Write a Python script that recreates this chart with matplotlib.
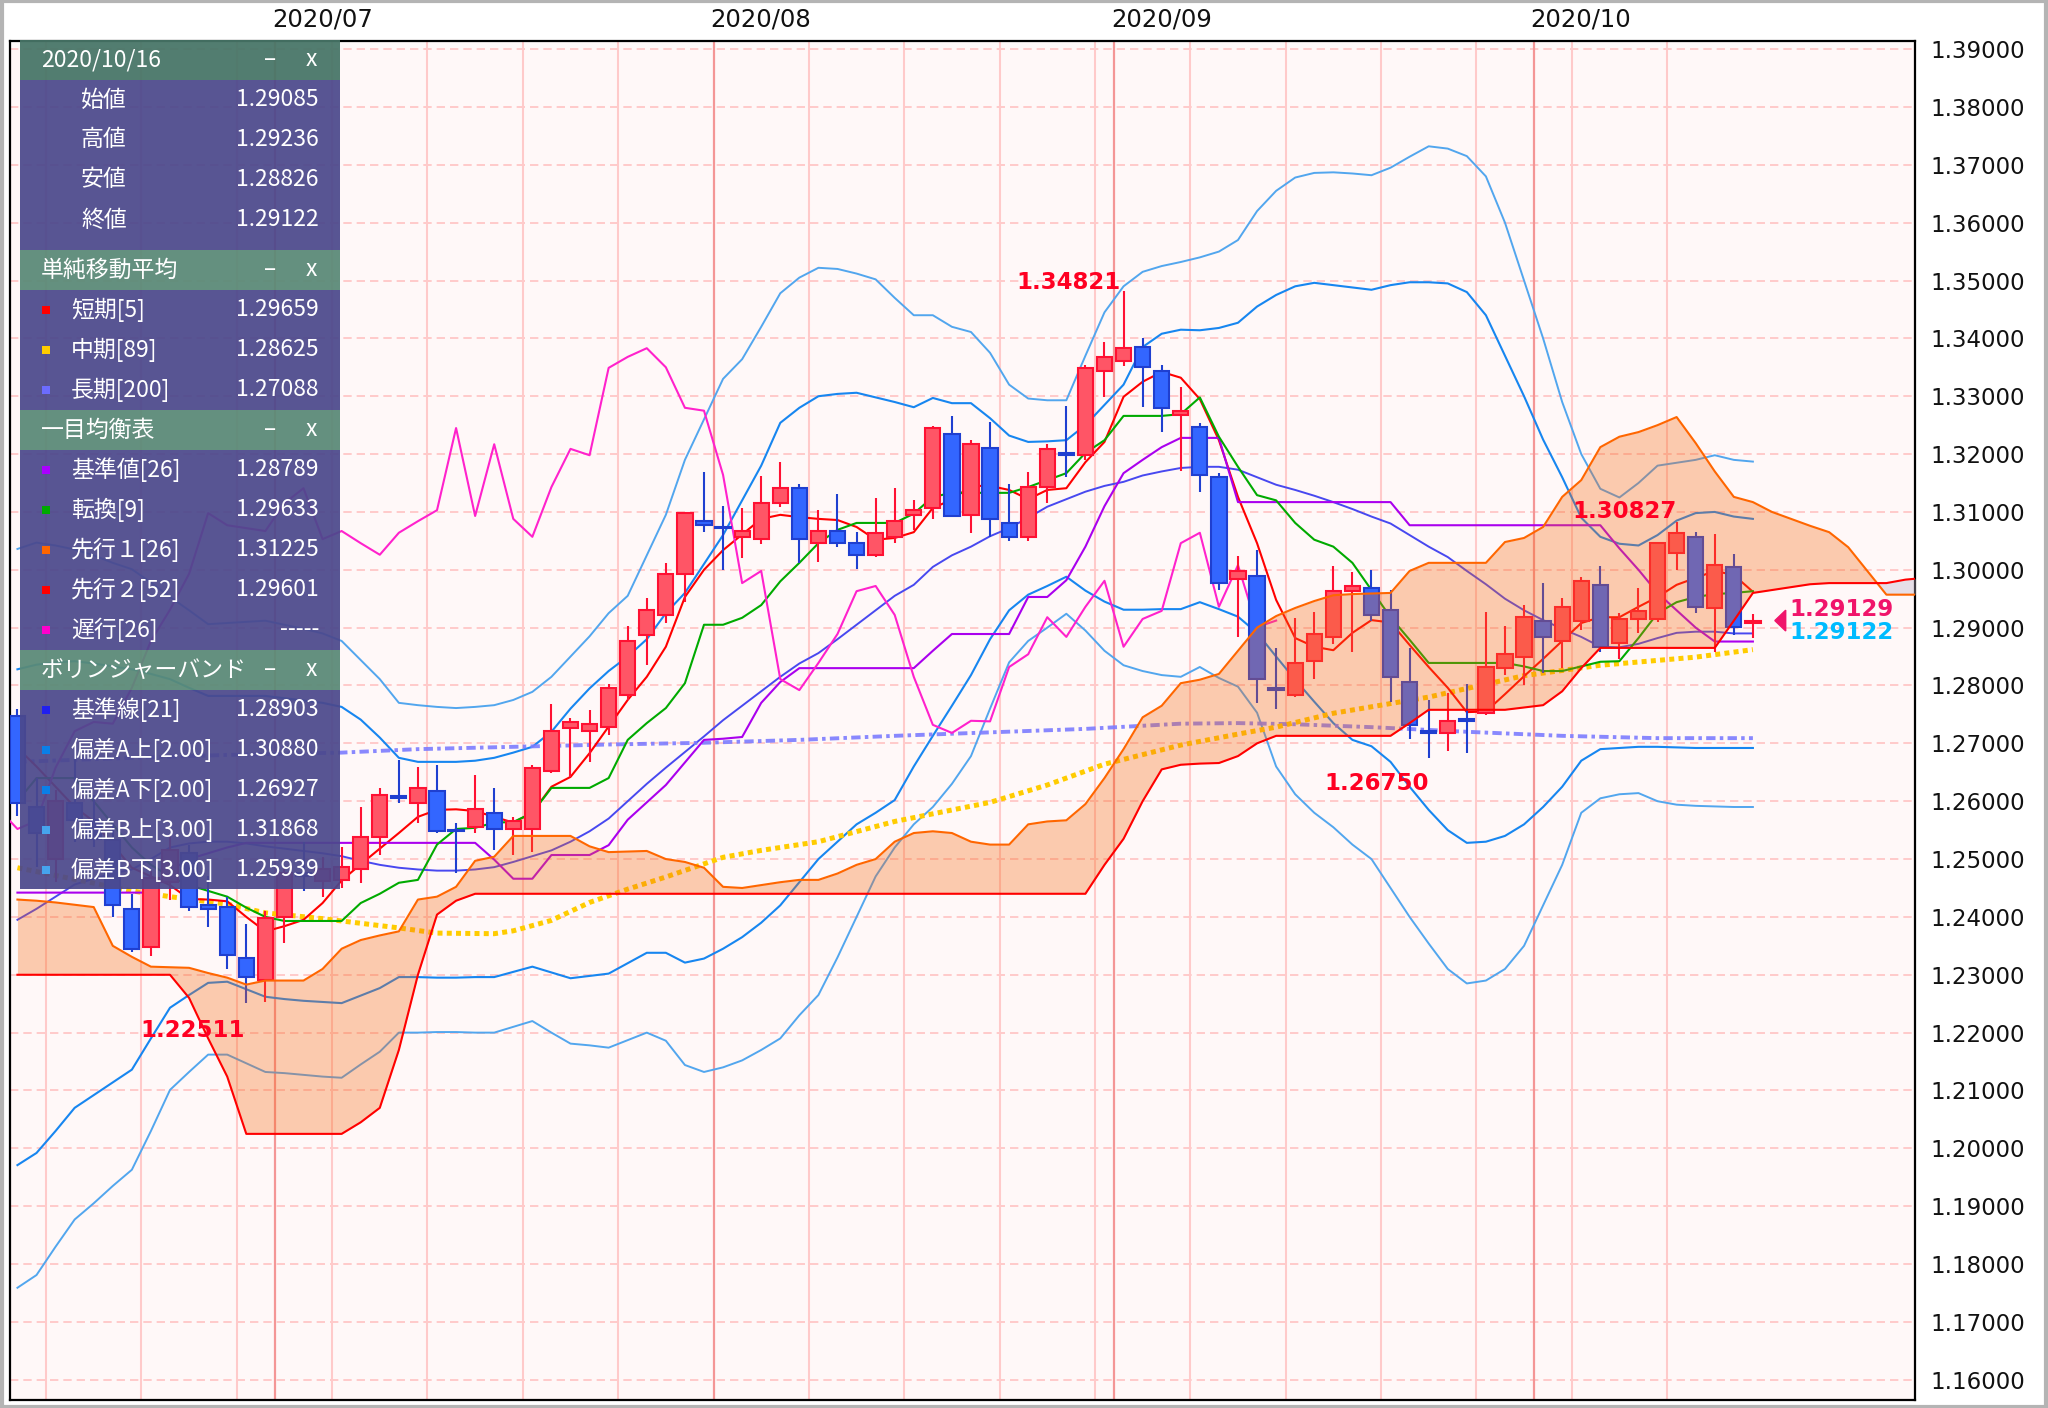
import numpy as np
import pandas as pd
import matplotlib
matplotlib.use("Agg")
import matplotlib.pyplot as plt
from matplotlib.patches import Rectangle, Polygon
from matplotlib.transforms import blended_transform_factory

plt.rcParams['font.family'] = ['Noto Sans CJK JP', 'DejaVu Sans']

# ---------------- data (GBP/USD daily) ----------------
dates = pd.bdate_range('2020-06-11', '2020-10-16')
idx = np.arange(len(dates)) - 1          # 2020/06/11 -> -1, 2020/10/16 -> 90

opens = [1.2747, 1.2590, 1.2500, 1.2597, 1.2568, 1.2533, 1.2414, 1.2348, 1.2460, 1.2511,
         1.2421, 1.2417, 1.2329, 1.2291, 1.2400, 1.2476, 1.2462, 1.2464, 1.2483, 1.2538,
         1.2609, 1.2597, 1.2618, 1.2551, 1.2556, 1.2580, 1.2552, 1.2552, 1.2652, 1.2727,
         1.2722, 1.2728, 1.2784, 1.2887, 1.2922, 1.2993, 1.3084, 1.3074, 1.3057, 1.3053,
         1.3115, 1.3141, 1.3046, 1.3067, 1.3046, 1.3026, 1.3057, 1.3095, 1.3107, 1.3235,
         1.3095, 1.3210, 1.3081, 1.3057, 1.3143, 1.3202, 1.3198, 1.3344, 1.3361, 1.3385,
         1.3344, 1.3268, 1.3247, 1.3160, 1.2984, 1.2989, 1.2796, 1.2784, 1.2842, 1.2884,
         1.2963, 1.2969, 1.2931, 1.2806, 1.2722, 1.2718, 1.2742, 1.2753, 1.2830, 1.2849,
         1.2912, 1.2877, 1.2912, 1.2974, 1.2874, 1.2915, 1.2915, 1.3029, 1.3057, 1.2934,
         1.3005, 1.29085]
highs = [1.2760, 1.2640, 1.2620, 1.2688, 1.2610, 1.2560, 1.2440, 1.2480, 1.2542, 1.2525,
         1.2470, 1.2435, 1.2388, 1.2410, 1.2482, 1.2530, 1.2504, 1.2520, 1.2590, 1.2623,
         1.2671, 1.2659, 1.2663, 1.2563, 1.2645, 1.2623, 1.2573, 1.2663, 1.2768, 1.2744,
         1.2758, 1.2803, 1.2903, 1.2951, 1.3012, 1.3100, 1.3169, 1.3110, 1.3107, 1.3162,
         1.3186, 1.3148, 1.3103, 1.3131, 1.3066, 1.3124, 1.3141, 1.3120, 1.3249, 1.3266,
         1.3224, 1.3255, 1.3148, 1.3169, 1.3217, 1.3283, 1.3354, 1.3394, 1.34821, 1.3400,
         1.3354, 1.3316, 1.3254, 1.3167, 1.3024, 1.3034, 1.2865, 1.2917, 1.2927, 1.3007,
         1.2996, 1.3000, 1.2965, 1.2865, 1.2775, 1.2787, 1.2803, 1.2927, 1.2902, 1.2940,
         1.2978, 1.2951, 1.2988, 1.3007, 1.2925, 1.2969, 1.3048, 1.30827, 1.3065, 1.3062,
         1.3027, 1.29236]
lows = [1.2575, 1.2486, 1.2460, 1.2530, 1.2520, 1.2400, 1.2340, 1.2333, 1.2430, 1.2410,
        1.2383, 1.2310, 1.22511, 1.2253, 1.2355, 1.2445, 1.2435, 1.2450, 1.2459, 1.2507,
        1.2597, 1.2563, 1.2545, 1.2476, 1.2545, 1.2516, 1.2507, 1.2512, 1.2649, 1.2642,
        1.2668, 1.2715, 1.2775, 1.2836, 1.2908, 1.2944, 1.3065, 1.3000, 1.3020, 1.3045,
        1.3109, 1.3012, 1.3014, 1.3040, 1.3001, 1.3022, 1.3046, 1.3069, 1.3088, 1.3091,
        1.3064, 1.3057, 1.3050, 1.3050, 1.3115, 1.3160, 1.3190, 1.3299, 1.3352, 1.3281,
        1.3238, 1.3170, 1.3134, 1.2965, 1.2884, 1.2770, 1.2760, 1.2780, 1.2811, 1.2872,
        1.2858, 1.2912, 1.2772, 1.2708, 1.26750, 1.2687, 1.2684, 1.2749, 1.2818, 1.2801,
        1.2822, 1.2830, 1.2896, 1.2858, 1.2846, 1.2891, 1.2910, 1.3000, 1.2925, 1.2858,
        1.2887, 1.28826]
closes = [1.2597, 1.2545, 1.2600, 1.2568, 1.2535, 1.2421, 1.2345, 1.2468, 1.2515, 1.2417,
          1.2414, 1.2334, 1.2296, 1.2398, 1.2476, 1.2470, 1.2482, 1.2487, 1.2538, 1.2611,
          1.2605, 1.2623, 1.2549, 1.2549, 1.2587, 1.2552, 1.2566, 1.2658, 1.2721, 1.2737,
          1.2734, 1.2796, 1.2877, 1.2931, 1.2993, 1.3098, 1.3077, 1.3072, 1.3067, 1.3115,
          1.3141, 1.3053, 1.3067, 1.3046, 1.3026, 1.3064, 1.3084, 1.3103, 1.3245, 1.3093,
          1.3217, 1.3088, 1.3057, 1.3143, 1.3209, 1.3198, 1.3349, 1.3368, 1.3383, 1.3350,
          1.3280, 1.3275, 1.3164, 1.2977, 1.2998, 1.2811, 1.2792, 1.2839, 1.2889, 1.2963,
          1.2972, 1.2922, 1.2815, 1.2732, 1.2718, 1.2739, 1.2738, 1.2832, 1.2854, 1.2918,
          1.2884, 1.2936, 1.2981, 1.2867, 1.2915, 1.2929, 1.3046, 1.3064, 1.2936, 1.3008,
          1.2901, 1.29122]

# moving averages
sma5 = [1.2692, 1.2660, 1.2625, 1.2590, 1.2565, 1.2525, 1.2485, 1.2470, 1.2455, 1.2431,
        1.2430, 1.2427, 1.2400, 1.2375, 1.2384, 1.2395, 1.2424, 1.2463, 1.2491, 1.2518,
        1.2545, 1.2573, 1.2585, 1.2586, 1.2583, 1.2573, 1.2563, 1.2580, 1.2625, 1.2642,
        1.2683, 1.2729, 1.2775, 1.2815, 1.2867, 1.2953, 1.3000, 1.3034, 1.3061, 1.3088,
        1.3095, 1.3091, 1.3088, 1.3086, 1.3074, 1.3052, 1.3055, 1.3065, 1.3107, 1.3121,
        1.3145, 1.3145, 1.3138, 1.3122, 1.3138, 1.3141, 1.3186, 1.3221, 1.3299, 1.3325,
        1.3342, 1.3332, 1.3295, 1.3224, 1.3126, 1.3046, 1.2948, 1.2882, 1.2867, 1.2861,
        1.2891, 1.2913, 1.2909, 1.2870, 1.2832, 1.2796, 1.2754, 1.2755, 1.2785, 1.2816,
        1.2846, 1.2877, 1.2908, 1.2918, 1.2918, 1.2936, 1.2953, 1.2974, 1.2986, 1.2998,
        1.2991, 1.2962]
sma89_idx = [-1, 2, 5, 7, 10, 12, 15, 17, 19, 21, 24, 25, 27, 29, 31, 33, 36, 38, 41, 45,
             50, 53, 56, 60, 63, 65, 68, 73, 78, 82, 87, 90]
sma89 = [1.2485, 1.2465, 1.2445, 1.2435, 1.2422, 1.2407, 1.2397, 1.2389, 1.2381, 1.2372,
         1.2371, 1.2376, 1.2394, 1.2425, 1.2448, 1.2469, 1.2503, 1.2515, 1.2530, 1.2565,
         1.2598, 1.2628, 1.2664, 1.2697, 1.2716, 1.2728, 1.2752, 1.2780, 1.2817, 1.2835,
         1.2849, 1.2862]
sma200_idx = [-1, 5, 10, 16, 20, 25, 30, 35, 40, 45, 50, 55, 60, 63, 66, 70, 75, 80, 85, 90]
sma200 = [1.2668, 1.2675, 1.2680, 1.2684, 1.2690, 1.2694, 1.2698, 1.2701, 1.2706, 1.2713,
          1.2719, 1.2725, 1.2734, 1.2735, 1.2733, 1.2728, 1.2720, 1.2713, 1.2709, 1.2709]

# ichimoku
tenkan = [1.2600, 1.2640, 1.2640, 1.2640, 1.2600, 1.2560, 1.2520, 1.2490, 1.2470, 1.2455,
          1.2445, 1.2435, 1.2416, 1.2400, 1.2393, 1.2393, 1.2393, 1.2393, 1.2424, 1.2440,
          1.2459, 1.2464, 1.2525, 1.2552, 1.2554, 1.2563, 1.2564, 1.2580, 1.2623, 1.2623,
          1.2623, 1.2640, 1.2706, 1.2735, 1.2761, 1.2804, 1.2905, 1.2905, 1.2917, 1.2939,
          1.2980, 1.3012, 1.3046, 1.3069, 1.3081, 1.3081, 1.3081, 1.3097, 1.3126, 1.3133,
          1.3133, 1.3133, 1.3133, 1.3143, 1.3155, 1.3167, 1.3202, 1.3224, 1.3266, 1.3266,
          1.3266, 1.3269, 1.3298, 1.3230, 1.3178, 1.3129, 1.3120, 1.3081, 1.3052, 1.3040,
          1.3012, 1.2965, 1.2918, 1.2879, 1.2839, 1.2839, 1.2839, 1.2839, 1.2839, 1.2833,
          1.2825, 1.2825, 1.2833, 1.2841, 1.2842, 1.2882, 1.2925, 1.2944, 1.2953, 1.2958,
          1.2960, 1.2963]
kijun = [1.2442, 1.2442, 1.2442, 1.2442, 1.2442, 1.2442, 1.2442, 1.2442, 1.2480, 1.2500,
         1.2510, 1.2520, 1.2528, 1.2528, 1.2528, 1.2528, 1.2528, 1.2528, 1.2528, 1.2528,
         1.2528, 1.2528, 1.2528, 1.2528, 1.2528, 1.2499, 1.2466, 1.2466, 1.2507, 1.2507,
         1.2507, 1.2524, 1.2568, 1.2598, 1.2628, 1.2667, 1.2706, 1.2708, 1.2711, 1.2770,
         1.2806, 1.2830, 1.2830, 1.2830, 1.2830, 1.2830, 1.2830, 1.2830, 1.2860, 1.2889,
         1.2889, 1.2889, 1.2889, 1.2953, 1.2953, 1.2982, 1.3040, 1.3110, 1.3167, 1.3190,
         1.3212, 1.3228, 1.3228, 1.3228, 1.3117, 1.3117, 1.3117, 1.3117, 1.3117, 1.3117,
         1.3117, 1.3117, 1.3117, 1.3077, 1.3077, 1.3077, 1.3077, 1.3077, 1.3077, 1.3077,
         1.3077, 1.3077, 1.3077, 1.3077, 1.3037, 1.3000, 1.2960, 1.2930, 1.2900, 1.2876,
         1.2876, 1.2876]
# leading spans, index -1 .. 99
senkou_a = [1.2430, 1.2428, 1.2425, 1.2421, 1.2417, 1.2350, 1.2331, 1.2314, 1.2313, 1.2312,
            1.2303, 1.2295, 1.2283, 1.2290, 1.2290, 1.2290, 1.2310, 1.2345, 1.2360, 1.2368,
            1.2375, 1.2430, 1.2435, 1.2452, 1.2497, 1.2504, 1.2540, 1.2540, 1.2540, 1.2540,
            1.2522, 1.2512, 1.2513, 1.2514, 1.2500, 1.2495, 1.2485, 1.2452, 1.2450, 1.2455,
            1.2460, 1.2464, 1.2464, 1.2475, 1.2490, 1.2500, 1.2530, 1.2545, 1.2548, 1.2545,
            1.2530, 1.2525, 1.2525, 1.2560, 1.2565, 1.2567, 1.2595, 1.2640, 1.2690, 1.2745,
            1.2765, 1.2804, 1.2810, 1.2820, 1.2860, 1.2900, 1.2920, 1.2934, 1.2946, 1.2956,
            1.2958, 1.2959, 1.2960, 1.2998, 1.3012, 1.3012, 1.3012, 1.3012, 1.3048, 1.3055,
            1.3074, 1.3126, 1.3155, 1.3212, 1.3230, 1.3238, 1.3250, 1.3264, 1.3219, 1.3170,
            1.3126, 1.3117, 1.3100, 1.3088, 1.3076, 1.3065, 1.3039, 1.2998, 1.2957, 1.2957,
            1.2957]
senkou_b = [1.2300, 1.2300, 1.2300, 1.2300, 1.2300, 1.2300, 1.2300, 1.2300, 1.2300, 1.2260,
            1.2190, 1.2124, 1.2025, 1.2025, 1.2025, 1.2025, 1.2025, 1.2025, 1.2045, 1.2070,
            1.2170, 1.2300, 1.2404, 1.2428, 1.2440, 1.2440, 1.2440, 1.2440, 1.2440, 1.2440,
            1.2440, 1.2440, 1.2440, 1.2440, 1.2440, 1.2440, 1.2440, 1.2440, 1.2440, 1.2440,
            1.2440, 1.2440, 1.2440, 1.2440, 1.2440, 1.2440, 1.2440, 1.2440, 1.2440, 1.2440,
            1.2440, 1.2440, 1.2440, 1.2440, 1.2440, 1.2440, 1.2440, 1.2490, 1.2535, 1.2600,
            1.2655, 1.2663, 1.2665, 1.2666, 1.2678, 1.2700, 1.2713, 1.2713, 1.2713, 1.2713,
            1.2713, 1.2713, 1.2713, 1.2735, 1.2758, 1.2758, 1.2758, 1.2758, 1.2758, 1.2762,
            1.2766, 1.2790, 1.2830, 1.2865, 1.2865, 1.2865, 1.2865, 1.2865, 1.2865, 1.2865,
            1.2912, 1.2960, 1.2965, 1.2970, 1.2975, 1.2977, 1.2977, 1.2977, 1.2977, 1.2983,
            1.2986]
chikou_shift = 25

# bollinger (21)
bb_mid = [1.2395, 1.2414, 1.2435, 1.2456, 1.2466, 1.2475, 1.2482, 1.2500, 1.2520, 1.2527,
          1.2530, 1.2530, 1.2527, 1.2522, 1.2518, 1.2514, 1.2510, 1.2505, 1.2497, 1.2490,
          1.2485, 1.2482, 1.2480, 1.2480, 1.2482, 1.2486, 1.2495, 1.2505, 1.2515, 1.2530,
          1.2548, 1.2570, 1.2600, 1.2630, 1.2658, 1.2685, 1.2712, 1.2740, 1.2765, 1.2790,
          1.2815, 1.2838, 1.2856, 1.2880, 1.2905, 1.2930, 1.2955, 1.2974, 1.3005, 1.3025,
          1.3040, 1.3058, 1.3072, 1.3090, 1.3109, 1.3122, 1.3135, 1.3145, 1.3152, 1.3163,
          1.3170, 1.3176, 1.3178, 1.3178, 1.3173, 1.3160, 1.3147, 1.3138, 1.3128, 1.3117,
          1.3105, 1.3092, 1.3080, 1.3060, 1.3040, 1.3022, 1.2998, 1.2975, 1.2950, 1.2930,
          1.2913, 1.2898, 1.2884, 1.2867, 1.2866, 1.2872, 1.2882, 1.2891, 1.2893, 1.2893,
          1.2890, 1.2890]
bb_up2 = [1.2828, 1.2836, 1.2840, 1.2842, 1.2838, 1.2833, 1.2828, 1.2820, 1.2811, 1.2796,
          1.2782, 1.2782, 1.2782, 1.2782, 1.2778, 1.2774, 1.2770, 1.2763, 1.2741, 1.2710,
          1.2675, 1.2668, 1.2668, 1.2668, 1.2670, 1.2675, 1.2684, 1.2694, 1.2720, 1.2760,
          1.2795, 1.2825, 1.2850, 1.2880, 1.2925, 1.2960, 1.3010, 1.3060, 1.3120, 1.3180,
          1.3254, 1.3280, 1.3300, 1.3304, 1.3306, 1.3298, 1.3290, 1.3281, 1.3297, 1.3288,
          1.3288, 1.3262, 1.3232, 1.3221, 1.3222, 1.3224, 1.3250, 1.3285, 1.3320, 1.3385,
          1.3408, 1.3415, 1.3414, 1.3418, 1.3427, 1.3455, 1.3475, 1.3490, 1.3496, 1.3492,
          1.3488, 1.3484, 1.3492, 1.3497, 1.3497, 1.3495, 1.3480, 1.3440, 1.3370, 1.3300,
          1.3225, 1.3160, 1.3090, 1.3057, 1.3045, 1.3042, 1.3060, 1.3085, 1.3098, 1.3100,
          1.3092, 1.3088]
bb_up3 = [1.3036, 1.3047, 1.3042, 1.3035, 1.3025, 1.3012, 1.3001, 1.2978, 1.2953, 1.2930,
          1.2906, 1.2908, 1.2910, 1.2912, 1.2905, 1.2898, 1.2890, 1.2877, 1.2844, 1.2811,
          1.2770, 1.2766, 1.2763, 1.2761, 1.2763, 1.2766, 1.2775, 1.2789, 1.2815, 1.2850,
          1.2885, 1.2925, 1.2955, 1.3025, 1.3095, 1.3190, 1.3260, 1.3330, 1.3364, 1.3420,
          1.3478, 1.3505, 1.3522, 1.3520, 1.3512, 1.3502, 1.3470, 1.3440, 1.3440, 1.3420,
          1.3411, 1.3375, 1.3320, 1.3296, 1.3293, 1.3293, 1.3370, 1.3445, 1.3490, 1.3515,
          1.3525, 1.3532, 1.3540, 1.3550, 1.3570, 1.3620, 1.3655, 1.3678, 1.3686, 1.3687,
          1.3685, 1.3682, 1.3695, 1.3714, 1.3732, 1.3728, 1.3715, 1.3680, 1.3600, 1.3500,
          1.3400, 1.3290, 1.3200, 1.3140, 1.3125, 1.3150, 1.3180, 1.3185, 1.3190, 1.3198,
          1.3190, 1.3187]
bb_lo2 = [1.1971, 1.1992, 1.2030, 1.2070, 1.2092, 1.2114, 1.2136, 1.2190, 1.2243, 1.2265,
          1.2286, 1.2288, 1.2275, 1.2262, 1.2258, 1.2255, 1.2253, 1.2251, 1.2264, 1.2277,
          1.2296, 1.2296, 1.2295, 1.2295, 1.2296, 1.2296, 1.2305, 1.2314, 1.2304, 1.2294,
          1.2298, 1.2302, 1.2320, 1.2338, 1.2338, 1.2321, 1.2328, 1.2345, 1.2365, 1.2390,
          1.2420, 1.2460, 1.2500, 1.2530, 1.2560, 1.2580, 1.2602, 1.2660, 1.2713, 1.2765,
          1.2818, 1.2880, 1.2930, 1.2957, 1.2972, 1.2988, 1.2964, 1.2945, 1.2931, 1.2931,
          1.2932, 1.2932, 1.2944, 1.2932, 1.2919, 1.2891, 1.2850, 1.2810, 1.2772, 1.2735,
          1.2706, 1.2695, 1.2668, 1.2625, 1.2585, 1.2550, 1.2528, 1.2530, 1.2540, 1.2560,
          1.2590, 1.2625, 1.2670, 1.2690, 1.2692, 1.2694, 1.2694, 1.2693, 1.2692, 1.2692,
          1.2692, 1.2692]
bb_lo3 = [1.1759, 1.1781, 1.1830, 1.1877, 1.1905, 1.1935, 1.1963, 1.2030, 1.2101, 1.2132,
          1.2162, 1.2162, 1.2147, 1.2132, 1.2130, 1.2127, 1.2124, 1.2122, 1.2145, 1.2167,
          1.2200, 1.2200, 1.2201, 1.2201, 1.2200, 1.2200, 1.2210, 1.2220, 1.2200, 1.2181,
          1.2178, 1.2174, 1.2187, 1.2200, 1.2186, 1.2144, 1.2132, 1.2140, 1.2152, 1.2170,
          1.2190, 1.2230, 1.2265, 1.2330, 1.2400, 1.2470, 1.2520, 1.2560, 1.2590, 1.2630,
          1.2678, 1.2760, 1.2840, 1.2877, 1.2900, 1.2924, 1.2895, 1.2860, 1.2835, 1.2825,
          1.2818, 1.2815, 1.2832, 1.2813, 1.2798, 1.2753, 1.2660, 1.2612, 1.2580, 1.2555,
          1.2525, 1.2500, 1.2450, 1.2400, 1.2354, 1.2310, 1.2285, 1.2290, 1.2310, 1.2350,
          1.2420, 1.2490, 1.2580, 1.2605, 1.2612, 1.2614, 1.2600, 1.2594, 1.2592, 1.2591,
          1.2590, 1.2590]

# info panel texts
panel_titles = ['2020/10/16', '単純移動平均', '一目均衡表', 'ボリンジャーバンド']
panel_labels = [['始値', '高値', '安値', '終値'],
                ['短期[5]', '中期[89]', '長期[200]'],
                ['基準値[26]', '転換[9]', '先行１[26]', '先行２[52]', '遅行[26]'],
                ['基準線[21]', '偏差A上[2.00]', '偏差A下[2.00]', '偏差B上[3.00]', '偏差B下[3.00]']]
panel_values = [['1.29085', '1.29236', '1.28826', '1.29122'],
                ['1.29659', '1.28625', '1.27088'],
                ['1.28789', '1.29633', '1.31225', '1.29601', '-----'],
                ['1.28903', '1.30880', '1.26927', '1.31868', '1.25939']]
panel_marks = [[None, None, None, None],
               ['#ff0000', '#ffcc00', '#6c6cff'],
               ['#aa00ff', '#00aa00', '#ff6600', '#ff0000', '#ff00cc'],
               ['#2020ee', '#0a7fe8', '#0a7fe8', '#46a4ee', '#46a4ee']]
bid_text = '1.29129'

# ---------------- figure ----------------
fig = plt.figure(figsize=(20.48, 14.08), dpi=100, facecolor='white')
ax = fig.add_axes([10 / 2048, 8 / 1408, 1905 / 2048, 1359 / 1408])
ax.set_facecolor('#fff8f8')
ax.set_xlim(-1.39, 98.5)
ax.set_ylim(1.1565, 1.3914)

# grid
yt = np.arange(116, 140) / 100
for v in yt:
    ax.axhline(v, color='#ffc2c2', lw=1.2, ls=(0, (5, 3)), zorder=0.5)
mondays = [i - 0.5 for i, d in zip(idx, dates) if d.weekday() == 0]
month_x = [idx[k] - 0.5 for k in range(1, len(dates)) if dates[k].month != dates[k - 1].month]
month_lbl = [dates[k].strftime('%Y/%m') for k in range(1, len(dates)) if dates[k].month != dates[k - 1].month]
for x in mondays:
    if x not in month_x:
        ax.axvline(x, color='#ffcaca', lw=1.5, zorder=0.6)
for x in month_x:
    ax.axvline(x, color='#f49696', lw=1.6, zorder=0.7)

tr = blended_transform_factory(ax.transData, ax.transAxes)
for x, lab in zip(month_x, month_lbl):
    ax.text(x - 0.15, 1.0155, lab, transform=tr, ha='left', va='center', fontsize=17.5,
            family='DejaVu Sans', color='#111111')

# bollinger
ax.plot(idx, bb_up3, color='#52a6ee', lw=1.4, zorder=2)
ax.plot(idx, bb_lo3, color='#52a6ee', lw=1.4, zorder=2)
ax.plot(idx, bb_up2, color='#1786f0', lw=1.5, zorder=2)
ax.plot(idx, bb_lo2, color='#1786f0', lw=1.5, zorder=2)
ax.plot(idx, bb_mid, color='#4848f0', lw=1.4, zorder=2.2)

# moving averages
ax.plot(sma200_idx, sma200, color='#7c7cff', lw=2.8, alpha=0.9,
        ls=(0, (2.4, 1.1, 0.9, 1.1)), zorder=2.5)
ax.plot(sma89_idx, sma89, color='#ffcc00', lw=3.6, ls=(0, (1.0, 0.85)), zorder=2.6)
ax.plot(idx, sma5, color='#ff0000', lw=1.5, zorder=3)

# ichimoku lines
ax.plot(idx, kijun, color='#aa00ee', lw=1.5, zorder=3)
ax.plot(idx, tenkan, color='#00aa00', lw=1.5, zorder=3)
ax.plot(idx - chikou_shift, closes, color='#ff22cc', lw=1.5, zorder=3)

# candles
o = np.array(opens); h = np.array(highs); l = np.array(lows); c = np.array(closes)
up = c >= o
fill = np.where(up, '#ff5566', '#3366ff')
edge = np.where(up, '#ff1133', '#1f3fd0')
ax.vlines(idx, l, h, colors=edge, lw=1.5, zorder=4)
ax.bar(idx, np.maximum(np.abs(c - o), 0.00003), bottom=np.minimum(o, c), width=0.8,
       color=fill, edgecolor=edge, linewidth=1.5, zorder=4.5)

# cloud
kx = np.arange(len(senkou_a)) - 1
sa = np.array(senkou_a); sb = np.array(senkou_b)
ax.fill_between(kx, sa, sb, where=sa >= sb, interpolate=True, color='#f46a14',
                alpha=0.32, lw=0, zorder=5)
ax.fill_between(kx, sa, sb, where=sa < sb, interpolate=True, color='#b8b0c8',
                alpha=0.35, lw=0, zorder=5)
ax.plot(kx, sa, color='#ff6600', lw=1.5, zorder=5.5)
ax.plot(kx, sb, color='#ff0000', lw=1.5, zorder=5.5)

# high / low labels
lab_kw = dict(fontsize=16.5, fontweight='bold', family='DejaVu Sans', color='#ff0022', zorder=9)
i_hi = int(np.argmax(h)); i_lo = int(np.argmin(l))
ax.text(idx[i_hi] - 0.15, h[i_hi] - 0.0005, f'{h[i_hi]:.5f}', ha='right', va='bottom', **lab_kw)
ax.text(idx[i_lo] - 0.1, l[i_lo] - 0.0027, f'{l[i_lo]:.5f}', ha='right', va='top', **lab_kw)
late = idx >= 60
j_lo = int(np.argmin(np.where(late, l, 9)))
ax.text(idx[j_lo], l[j_lo] - 0.0024, f'{l[j_lo]:.5f}', ha='right', va='top', **lab_kw)
late2 = idx >= 70
j_hi = int(np.argmax(np.where(late2, h, 0)))
ax.text(idx[j_hi], h[j_hi] - 0.0002, f'{h[j_hi]:.5f}', ha='right', va='bottom', **lab_kw)

# current price marker
last_x = idx[-1]
ax.add_patch(Polygon([[last_x + 1.15, c[-1]], [last_x + 1.72, c[-1] + 0.0018],
                      [last_x + 1.72, c[-1] - 0.0018]], closed=True, color='#f0146a', zorder=9))
ax.text(last_x + 1.9, c[-1] + 0.0020, bid_text, ha='left', va='center', fontsize=16.5,
        fontweight='bold', family='DejaVu Sans', color='#f0146a', zorder=9)
ax.text(last_x + 1.9, c[-1] - 0.0021, f'{c[-1]:.5f}', ha='left', va='center', fontsize=16.5,
        fontweight='bold', family='DejaVu Sans', color='#00bbff', zorder=9)

# axes style
ax.set_xticks([])
ax.yaxis.tick_right()
ax.set_yticks(yt)
ax.set_yticklabels([f'{v:.5f}' for v in yt])
ax.tick_params(axis='y', length=0, pad=11, labelsize=16.5, labelcolor='#111111',
               labelfontfamily='DejaVu Sans')
for s in ax.spines.values():
    s.set_color('black')
    s.set_linewidth(1.6)

# ---------------- info panel ----------------
pax = fig.add_axes([20 / 2048, 1 - 889 / 1408, 320 / 2048, 849 / 1408])
pax.set_xlim(0, 320)
pax.set_ylim(849, 0)
pax.axis('off')
hdr_cols = ['#477567', '#5a8a77', '#5a8a77', '#5a8a77']
txt_kw = dict(color='white', fontsize=16.5, va='center')
y = 0
for k, title in enumerate(panel_titles):
    pax.add_patch(Rectangle((0, y), 320, 40, fc=hdr_cols[k], alpha=0.94, lw=0))
    pax.text(21, y + 20, title, **txt_kw)
    pax.text(250, y + 20, '–', ha='center', **txt_kw)
    pax.text(291, y + 20, 'x', ha='center', **txt_kw)
    y += 40
    body_h = 40 * len(panel_labels[k]) + (10 if k == 0 else 0)
    pax.add_patch(Rectangle((0, y), 320, body_h, fc='#4b488c', alpha=0.93, lw=0))
    for r, (lab, val, col) in enumerate(zip(panel_labels[k], panel_values[k], panel_marks[k])):
        yy = y + 20 + 40 * r
        if col is None:
            tx = 61
        else:
            pax.add_patch(Rectangle((22, yy - 4), 8, 8, fc=col, lw=0))
            tx = 51
        pax.text(tx, yy, lab, **txt_kw)
        pax.text(299, yy, val, ha='right', **txt_kw)
    y += body_h

fig.add_artist(Rectangle((0.001, 0.001), 0.998, 0.998, transform=fig.transFigure,
                         fill=False, ec='#b4b4b4', lw=3))

fig.savefig('out.png', dpi=100, facecolor='white')
